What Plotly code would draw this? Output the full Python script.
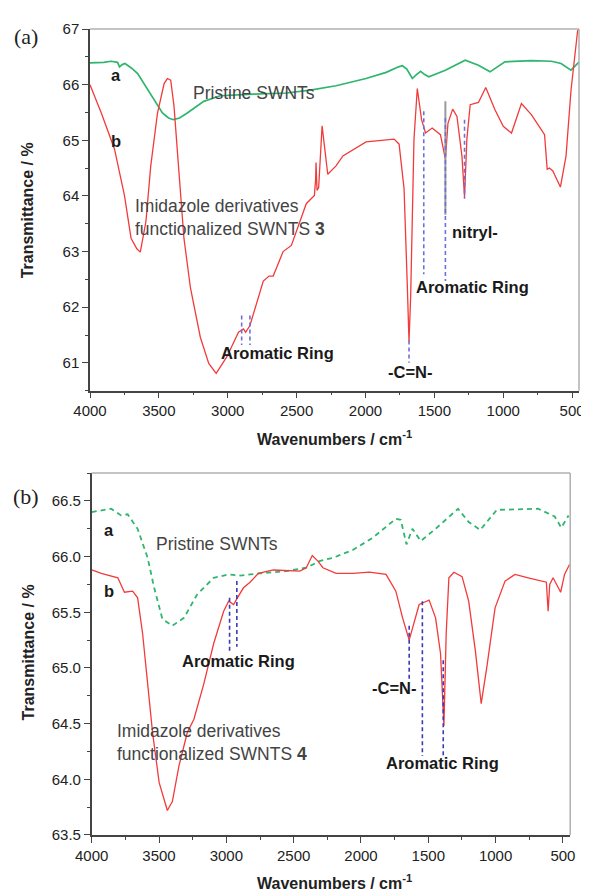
import plotly.graph_objects as go

# ---------------- Panel (a) data ----------------
a1_wn = [4000, 3900, 3847, 3800, 3786, 3766, 3746, 3700, 3654, 3600, 3534, 3474, 3430, 3395, 3350, 3294,
         3174, 3055, 2814, 2574, 2400, 2214, 1996, 1850, 1760, 1732, 1700, 1660, 1630, 1600, 1570, 1540,
         1420, 1276, 1180, 1096, 988, 796, 650, 580, 508, 449]
a1_t = [66.39, 66.40, 66.42, 66.40, 66.32, 66.36, 66.38, 66.30, 66.20, 65.98, 65.73, 65.49, 65.40, 65.37, 65.40, 65.49,
        65.70, 65.80, 65.83, 65.85, 65.90, 65.98, 66.11, 66.22, 66.32, 66.34, 66.28, 66.11, 66.18, 66.24, 66.18, 66.14,
        66.26, 66.44, 66.35, 66.23, 66.41, 66.43, 66.42, 66.38, 66.26, 66.41]

b1_wn = [4000, 3918, 3822, 3750, 3702, 3660, 3635, 3594, 3559, 3510, 3462, 3438, 3414, 3390, 3354, 3318,
         3271, 3199, 3138, 3084, 3006, 2922, 2886, 2870, 2839, 2742, 2700, 2670, 2598, 2538, 2430, 2371,
         2362, 2359, 2352, 2340, 2315, 2300, 2274, 2214, 2164, 1996, 1792, 1756, 1720, 1696, 1684, 1672,
         1665, 1648, 1624, 1608, 1593, 1564, 1516, 1456, 1420, 1401, 1367, 1336, 1300, 1281, 1264, 1240,
         1180, 1127, 1060, 1000, 940, 868, 796, 724, 700, 681, 665, 640, 585, 544, 508, 460, 450]
b1_t = [66.00, 65.49, 64.84, 64.01, 63.24, 63.05, 62.99, 63.54, 64.54, 65.49, 66.02, 66.11, 66.08, 65.61, 64.42, 63.24,
        62.35, 61.46, 60.99, 60.81, 61.11, 61.55, 61.61, 61.55, 61.67, 62.47, 62.56, 62.56, 63.00, 63.11, 63.86, 64.01,
        64.30, 64.60, 64.10, 64.15, 65.26, 64.90, 64.39, 64.54, 64.72, 64.97, 65.02, 64.93, 64.13, 62.35, 61.38, 62.20,
        62.94, 65.02, 65.93, 65.61, 65.37, 65.13, 65.22, 65.10, 64.66, 65.31, 65.56, 65.43, 64.72, 63.98, 65.02, 65.64,
        65.68, 65.95, 65.55, 65.25, 65.13, 65.66, 65.46, 65.19, 65.10, 64.48, 64.50, 64.45, 64.16, 64.72, 65.90, 66.97, 67.00]

# marker lines in panel (a): position, top, bottom
a_dash_wn = [2899, 2839, 1684, 1577, 1420, 1281]
a_dash_top = [61.85, 61.85, 61.40, 65.52, 65.40, 65.37]
a_dash_bot = [61.32, 61.32, 61.00, 62.59, 62.47, 63.95]
a_gray_wn = [1420]
a_gray_top = [65.70]
a_gray_bot = [63.66]

# ---------------- Panel (b) data ----------------
a2_wn = [4000, 3856, 3782, 3733, 3659, 3585, 3536, 3475, 3401, 3315, 3217, 3094, 2983, 2898, 2750, 2553,
         2406, 2308, 2207, 2060, 1912, 1741, 1704, 1662, 1618, 1556, 1446, 1279, 1200, 1114, 991, 684,
         561, 512, 458]
a2_t = [66.40, 66.43, 66.37, 66.38, 66.25, 65.99, 65.72, 65.44, 65.38, 65.45, 65.66, 65.81, 65.84, 65.83, 65.85, 65.87,
        65.90, 65.96, 65.99, 66.06, 66.17, 66.34, 66.33, 66.11, 66.25, 66.14, 66.25, 66.43, 66.31, 66.24, 66.42, 66.43,
        66.36, 66.26, 66.37]

b2_wn = [4000, 3929, 3806, 3757, 3696, 3659, 3622, 3585, 3548, 3499, 3438, 3420, 3401, 3352, 3290, 3241,
         3167, 3094, 3020, 2983, 2946, 2922, 2873, 2824, 2762, 2651, 2455, 2406, 2362, 2320, 2283, 2185,
         2060, 1937, 1814, 1741, 1691, 1642, 1605, 1568, 1531, 1494, 1446, 1409, 1384, 1367, 1347, 1310,
         1249, 1200, 1151, 1107, 1065, 1004, 930, 856, 758, 660, 623, 610, 598, 573, 549, 517, 488, 451]
b2_t = [65.88, 65.85, 65.81, 65.68, 65.69, 65.63, 65.31, 64.86, 64.42, 63.97, 63.72, 63.76, 63.80, 64.12, 64.42, 64.54,
        64.86, 65.22, 65.51, 65.60, 65.57, 65.62, 65.72, 65.77, 65.85, 65.88, 65.87, 65.90, 66.01, 65.96, 65.90, 65.85,
        65.85, 65.86, 65.84, 65.69, 65.45, 65.25, 65.40, 65.57, 65.59, 65.61, 65.45, 65.13, 64.48, 65.31, 65.81, 65.86,
        65.82, 65.60, 65.16, 64.68, 65.01, 65.54, 65.78, 65.84, 65.81, 65.78, 65.77, 65.51, 65.75, 65.81, 65.75, 65.68, 65.84, 65.93]

b_dash_wn = [2976, 2922, 1642, 1544, 1389]
b_dash_top = [65.63, 65.78, 65.38, 65.60, 65.07]
b_dash_bot = [65.13, 65.19, 64.90, 64.21, 64.21]

x_ticks = [4000, 3500, 3000, 2500, 2000, 1500, 1000, 500]


def segs(xs, tops, bots):
    X, Y = [], []
    for x, t, b in zip(xs, tops, bots):
        X += [x, x, None]
        Y += [t, b, None]
    return X, Y


RED = "#f23a3a"
GREEN = "#2fb56e"
FONT = "Liberation Sans, Arial, sans-serif"

fig = go.Figure()

# panel (a)
fig.add_trace(go.Scatter(x=a1_wn, y=a1_t, mode="lines", line=dict(color=GREEN, width=1.7),
                         xaxis="x", yaxis="y", showlegend=False))
fig.add_trace(go.Scatter(x=b1_wn, y=b1_t, mode="lines", line=dict(color=RED, width=1.3),
                         xaxis="x", yaxis="y", showlegend=False))
gx, gy = segs(a_gray_wn, a_gray_top, a_gray_bot)
fig.add_trace(go.Scatter(x=gx, y=gy, mode="lines", line=dict(color="#9a9a9a", width=2),
                         xaxis="x", yaxis="y", showlegend=False))
dx, dy = segs(a_dash_wn, a_dash_top, a_dash_bot)
fig.add_trace(go.Scatter(x=dx, y=dy, mode="lines", line=dict(color="#6f6fd8", width=1.6, dash="4px,3px"),
                         xaxis="x", yaxis="y", showlegend=False))

# panel (b)
fig.add_trace(go.Scatter(x=a2_wn, y=a2_t, mode="lines", line=dict(color=GREEN, width=1.8, dash="5px,4px"),
                         xaxis="x2", yaxis="y2", showlegend=False))
fig.add_trace(go.Scatter(x=b2_wn, y=b2_t, mode="lines", line=dict(color=RED, width=1.3),
                         xaxis="x2", yaxis="y2", showlegend=False))
dx2, dy2 = segs(b_dash_wn, b_dash_top, b_dash_bot)
fig.add_trace(go.Scatter(x=dx2, y=dy2, mode="lines", line=dict(color="#3a3ab8", width=1.6, dash="4px,3px"),
                         xaxis="x2", yaxis="y2", showlegend=False))

axis_common = dict(showline=True, linecolor="#444", linewidth=1.5, ticks="outside", ticklen=6,
                   tickwidth=1.3, tickcolor="#444", showgrid=False, zeroline=False,
                   tickfont=dict(family=FONT, size=15, color="#222"))
minor = dict(ticks="outside", ticklen=3, tickwidth=1.2, tickcolor="#444", showgrid=False)

# the page body adds an 8px offset, so margins are shifted to compensate
fig.update_layout(
    width=589, height=893,
    margin=dict(l=82, r=14, t=12, b=66),
    paper_bgcolor="white", plot_bgcolor="white",
    xaxis=dict(domain=[0, 1], anchor="y", range=[4000, 450], tickvals=x_ticks,
               minor=dict(dtick=250, **minor), **axis_common),
    yaxis=dict(domain=[0.5513, 1], anchor="x", range=[60.5, 67], dtick=1,
               minor=dict(dtick=0.5, **minor), **axis_common),
    xaxis2=dict(domain=[0.0035, 0.982], anchor="y2", range=[4000, 446], tickvals=x_ticks,
                minor=dict(dtick=250, **minor), **axis_common),
    yaxis2=dict(domain=[0, 0.449], anchor="x2", range=[63.5, 66.75], dtick=0.5, tickformat=".1f",
                minor=dict(dtick=0.25, **minor), **axis_common),
)

# light frame (top / right)
for xr, yr in [("x domain", "y domain"), ("x2 domain", "y2 domain")]:
    fig.add_shape(type="line", xref=xr, yref=yr, x0=0, x1=1, y0=1, y1=1, line=dict(color="#b0b0b0", width=1.5))
    fig.add_shape(type="line", xref=xr, yref=yr, x0=1, x1=1, y0=0, y1=1, line=dict(color="#b0b0b0", width=1.5))

REG = dict(family=FONT, size=17.5, color="#444")
BOLD = dict(family=FONT, size=16.5, color="#1a1a1a")


def ann(text, x, y, xr, yr, font, xanchor="center", align="center"):
    fig.add_annotation(text=text, x=x, y=y, xref=xr, yref=yr, showarrow=False, font=font,
                       xanchor=xanchor, yanchor="middle", align=align)


# panel (a) labels
ann("<b>a</b>", 3813, 66.17, "x", "y", BOLD)
ann("<b>b</b>", 3810, 64.99, "x", "y", BOLD)
ann("Pristine SWNTs", 2809, 65.85, "x", "y", REG)
ann("Imidazole derivatives<br>functionalized SWNTS <b>3</b>", 3690, 63.61, "x", "y", REG, xanchor="left", align="left")
ann("<b>Aromatic Ring</b>", 2636, 61.17, "x", "y", BOLD)
ann("<b>-C=N-</b>", 1675, 60.84, "x", "y", BOLD)
ann("<b>Aromatic Ring</b>", 1221, 62.36, "x", "y", BOLD)
ann("<b>nitryl-</b>", 1204, 63.36, "x", "y", BOLD)

# panel (b) labels
ann("<b>a</b>", 3875, 66.24, "x2", "y2", BOLD)
ann("<b>b</b>", 3875, 65.69, "x2", "y2", BOLD)
ann("Pristine SWNTs", 3066, 66.11, "x2", "y2", REG)
ann("Imidazole derivatives<br>functionalized SWNTS <b>4</b>", 3826, 64.33, "x2", "y2", REG, xanchor="left", align="left")
ann("<b>Aromatic Ring</b>", 2909, 65.06, "x2", "y2", BOLD)
ann("<b>-C=N-</b>", 1755, 64.82, "x2", "y2", BOLD)
ann("<b>Aromatic Ring</b>", 1396, 64.15, "x2", "y2", BOLD)

# panel tags
SERIF = dict(family="Liberation Serif, Times New Roman, serif", size=22, color="#222")
ann("(a)", -0.13, 0.991, "paper", "paper", SERIF)
ann("(b)", -0.13, 0.4196, "paper", "paper", SERIF)

# axis titles
TITLE = dict(family=FONT, size=16, color="#222")
for yc in [0.7755, 0.227]:
    fig.add_annotation(text="<b>Transmittance / %</b>", x=-0.126, y=yc, xref="paper", yref="paper",
                       showarrow=False, textangle=-90, font=TITLE, xanchor="center", yanchor="middle")
for yc in [0.493, -0.0589]:
    fig.add_annotation(text="<b>Wavenumbers / cm<sup>-1</sup></b>", x=0.5, y=yc, xref="paper", yref="paper",
                       showarrow=False, font=TITLE, xanchor="center", yanchor="middle")

fig.write_html("out.html")
